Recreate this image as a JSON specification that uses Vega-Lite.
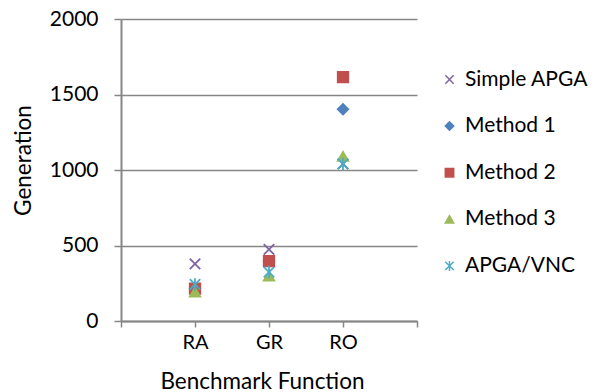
{
  "$schema": "https://vega.github.io/schema/vega-lite/v6.json",
  "width": 296,
  "height": 302,
  "autosize": "none",
  "padding": {"left": 121, "top": 19, "right": 181, "bottom": 71},
  "background": "white",
  "config": {
    "font": "Lato",
    "view": {"stroke": null},
    "axis": {
      "domainColor": "#868686",
      "domainWidth": 2,
      "tickColor": "#868686",
      "tickWidth": 1.5,
      "gridColor": "#868686",
      "gridWidth": 1.5,
      "labelColor": "#000000",
      "titleColor": "#000000",
      "labelFont": "Lato",
      "titleFont": "Lato",
      "labelFontSize": 20,
      "titleFontSize": 22.5,
      "titleFontWeight": "normal"
    }
  },
  "data": {
    "values": [
      {"bench": 1, "series": "Simple APGA", "gen": 378},
      {"bench": 2, "series": "Simple APGA", "gen": 474},
      {"bench": 3, "series": "Simple APGA", "gen": 1040},
      {"bench": 1, "series": "Method 1", "gen": 214},
      {"bench": 2, "series": "Method 1", "gen": 396},
      {"bench": 3, "series": "Method 1", "gen": 1403},
      {"bench": 1, "series": "Method 2", "gen": 214},
      {"bench": 2, "series": "Method 2", "gen": 396},
      {"bench": 3, "series": "Method 2", "gen": 1615},
      {"bench": 1, "series": "Method 3", "gen": 192},
      {"bench": 2, "series": "Method 3", "gen": 297},
      {"bench": 3, "series": "Method 3", "gen": 1090},
      {"bench": 1, "series": "APGA/VNC", "gen": 242},
      {"bench": 2, "series": "APGA/VNC", "gen": 324},
      {"bench": 3, "series": "APGA/VNC", "gen": 1040}
    ]
  },
  "mark": {"type": "point", "filled": true, "size": 110, "strokeWidth": 1.8, "opacity": 1},
  "encoding": {
    "x": {
      "field": "bench",
      "type": "quantitative",
      "scale": {"domain": [0, 4], "nice": false},
      "axis": {
        "title": "Benchmark Function",
        "values": [0, 1, 2, 3, 4],
        "labelExpr": "datum.value == 1 ? 'RA' : datum.value == 2 ? 'GR' : datum.value == 3 ? 'RO' : ''",
        "grid": false,
        "tickSize": 6,
        "labelPadding": 5,
        "titleX": 141,
        "titleY": 67,
        "titleBaseline": "alphabetic"
      }
    },
    "y": {
      "field": "gen",
      "type": "quantitative",
      "scale": {"domain": [0, 2000], "nice": false},
      "axis": {
        "title": "Generation",
        "format": "d",
        "values": [0, 500, 1000, 1500, 2000],
        "labelFontSize": 21,
        "tickSize": 7,
        "labelPadding": 16,
        "titleX": -91,
        "titleY": 141,
        "titleBaseline": "alphabetic"
      }
    },
    "order": {"field": "bench"},
    "shape": {
      "field": "series",
      "type": "nominal",
      "sort": ["Simple APGA", "Method 1", "Method 2", "Method 3", "APGA/VNC"],
      "scale": {
        "domain": ["Simple APGA", "Method 1", "Method 2", "Method 3", "APGA/VNC"],
        "range": [
          "M-1,-1L1,1M-1,1L1,-1",
          "diamond",
          "square",
          "triangle-up",
          "M-1,-1L1,1M-1,1L1,-1M0,-1.2L0,1.2"
        ]
      },
      "legend": {
        "title": null,
        "orient": "none",
        "legendX": 318,
        "legendY": 50,
        "labelFont": "Lato",
        "labelFontSize": 21,
        "labelColor": "#000000",
        "symbolSize": 70,
        "symbolStrokeWidth": 1.5,
        "rowPadding": 24.6,
        "labelOffset": 5
      }
    },
    "fill": {
      "field": "series",
      "type": "nominal",
      "scale": {
        "domain": ["Simple APGA", "Method 1", "Method 2", "Method 3", "APGA/VNC"],
        "range": ["#8064A2", "#4F81BD", "#C0504D", "#9BBB59", "#4BACC6"]
      }
    },
    "stroke": {
      "field": "series",
      "type": "nominal",
      "scale": {
        "domain": ["Simple APGA", "Method 1", "Method 2", "Method 3", "APGA/VNC"],
        "range": ["#8064A2", "#4F81BD", "#C0504D", "#9BBB59", "#4BACC6"]
      }
    }
  }
}
